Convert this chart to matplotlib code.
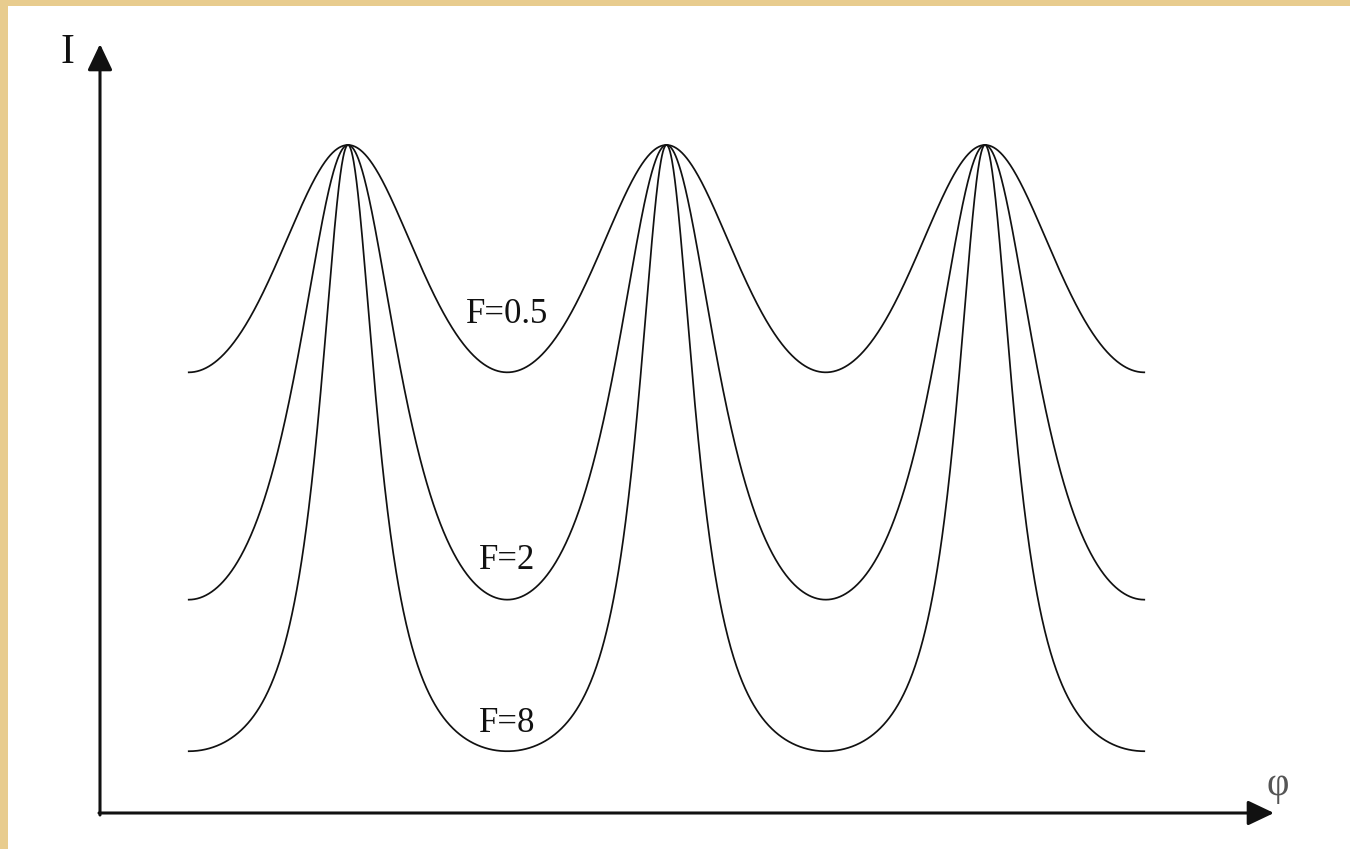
import numpy as np
import matplotlib
matplotlib.use("Agg")
import matplotlib.pyplot as plt
from matplotlib.patches import Rectangle

# ---- data ----
finesse = [0.5, 2, 8]                     # coefficient of finesse F for each curve
curve_labels = ["F=0.5", "F=2", "F=8"]
phase_min = np.pi                         # curves start at a minimum
phase_max = 7 * np.pi                     # and end at a minimum (three peaks at 2π, 4π, 6π)
label_phase = 3 * np.pi                   # labels sit above the 2nd minimum
label_offsets = [0.085, 0.058, 0.041]     # label centre height above each curve's minimum (I units)
axis_label_x = "φ"
axis_label_y = "I"

W, H, DPI = 1350, 849, 100
fig = plt.figure(figsize=(W / DPI, H / DPI), dpi=DPI)
fig.patch.set_facecolor("#E8CC8E")

# decoration axes in pixel coordinates (frame, arrows)
deco = fig.add_axes([0, 0, 1, 1])
deco.set_xlim(0, W)
deco.set_ylim(H, 0)
deco.axis("off")
deco.add_patch(Rectangle((8, 6), W, H, facecolor="white", edgecolor="none", zorder=0))

arrow_kw = dict(arrowstyle="-|>,head_length=0.8,head_width=0.38", color="#111111",
                lw=2.2, mutation_scale=20, shrinkA=0, shrinkB=0)
deco.annotate("", xy=(100, 44), xytext=(100, 815), arrowprops=arrow_kw)
deco.annotate("", xy=(1274, 813), xytext=(99, 813), arrowprops=arrow_kw)

serif = ["Liberation Serif", "DejaVu Serif"]
deco.text(67, 53, axis_label_y, fontsize=30, family=serif, ha="center", va="center", color="#111111")
deco.text(1278, 786, axis_label_x, fontsize=28, family=serif, ha="center", va="center", color="#555555")

# data axes: map phase and intensity to pixels
px_per_rad = 318.5 / (2 * np.pi)
x_left = 2 * np.pi - 348 / px_per_rad
x_right = 2 * np.pi + (W - 348) / px_per_rad
px_per_unit = 682.0
y_top = 827 / px_per_unit
y_bot = -(H - 827) / px_per_unit

ax = fig.add_axes([0, 0, 1, 1])
ax.set_xlim(x_left, x_right)
ax.set_ylim(y_bot, y_top)
ax.axis("off")
ax.patch.set_alpha(0)

phi = np.linspace(phase_min, phase_max, 2000)
for F, lab, off in zip(finesse, curve_labels, label_offsets):
    intensity = 1.0 / (1.0 + F * np.sin(phi / 2) ** 2)
    ax.plot(phi, intensity, color="#111111", lw=1.25)
    imin = 1.0 / (1.0 + F)
    ax.text(label_phase, imin + off, lab, fontsize=25, family=serif,
            ha="center", va="center", color="#111111")

fig.savefig("out.png", dpi=DPI, facecolor=fig.get_facecolor())
